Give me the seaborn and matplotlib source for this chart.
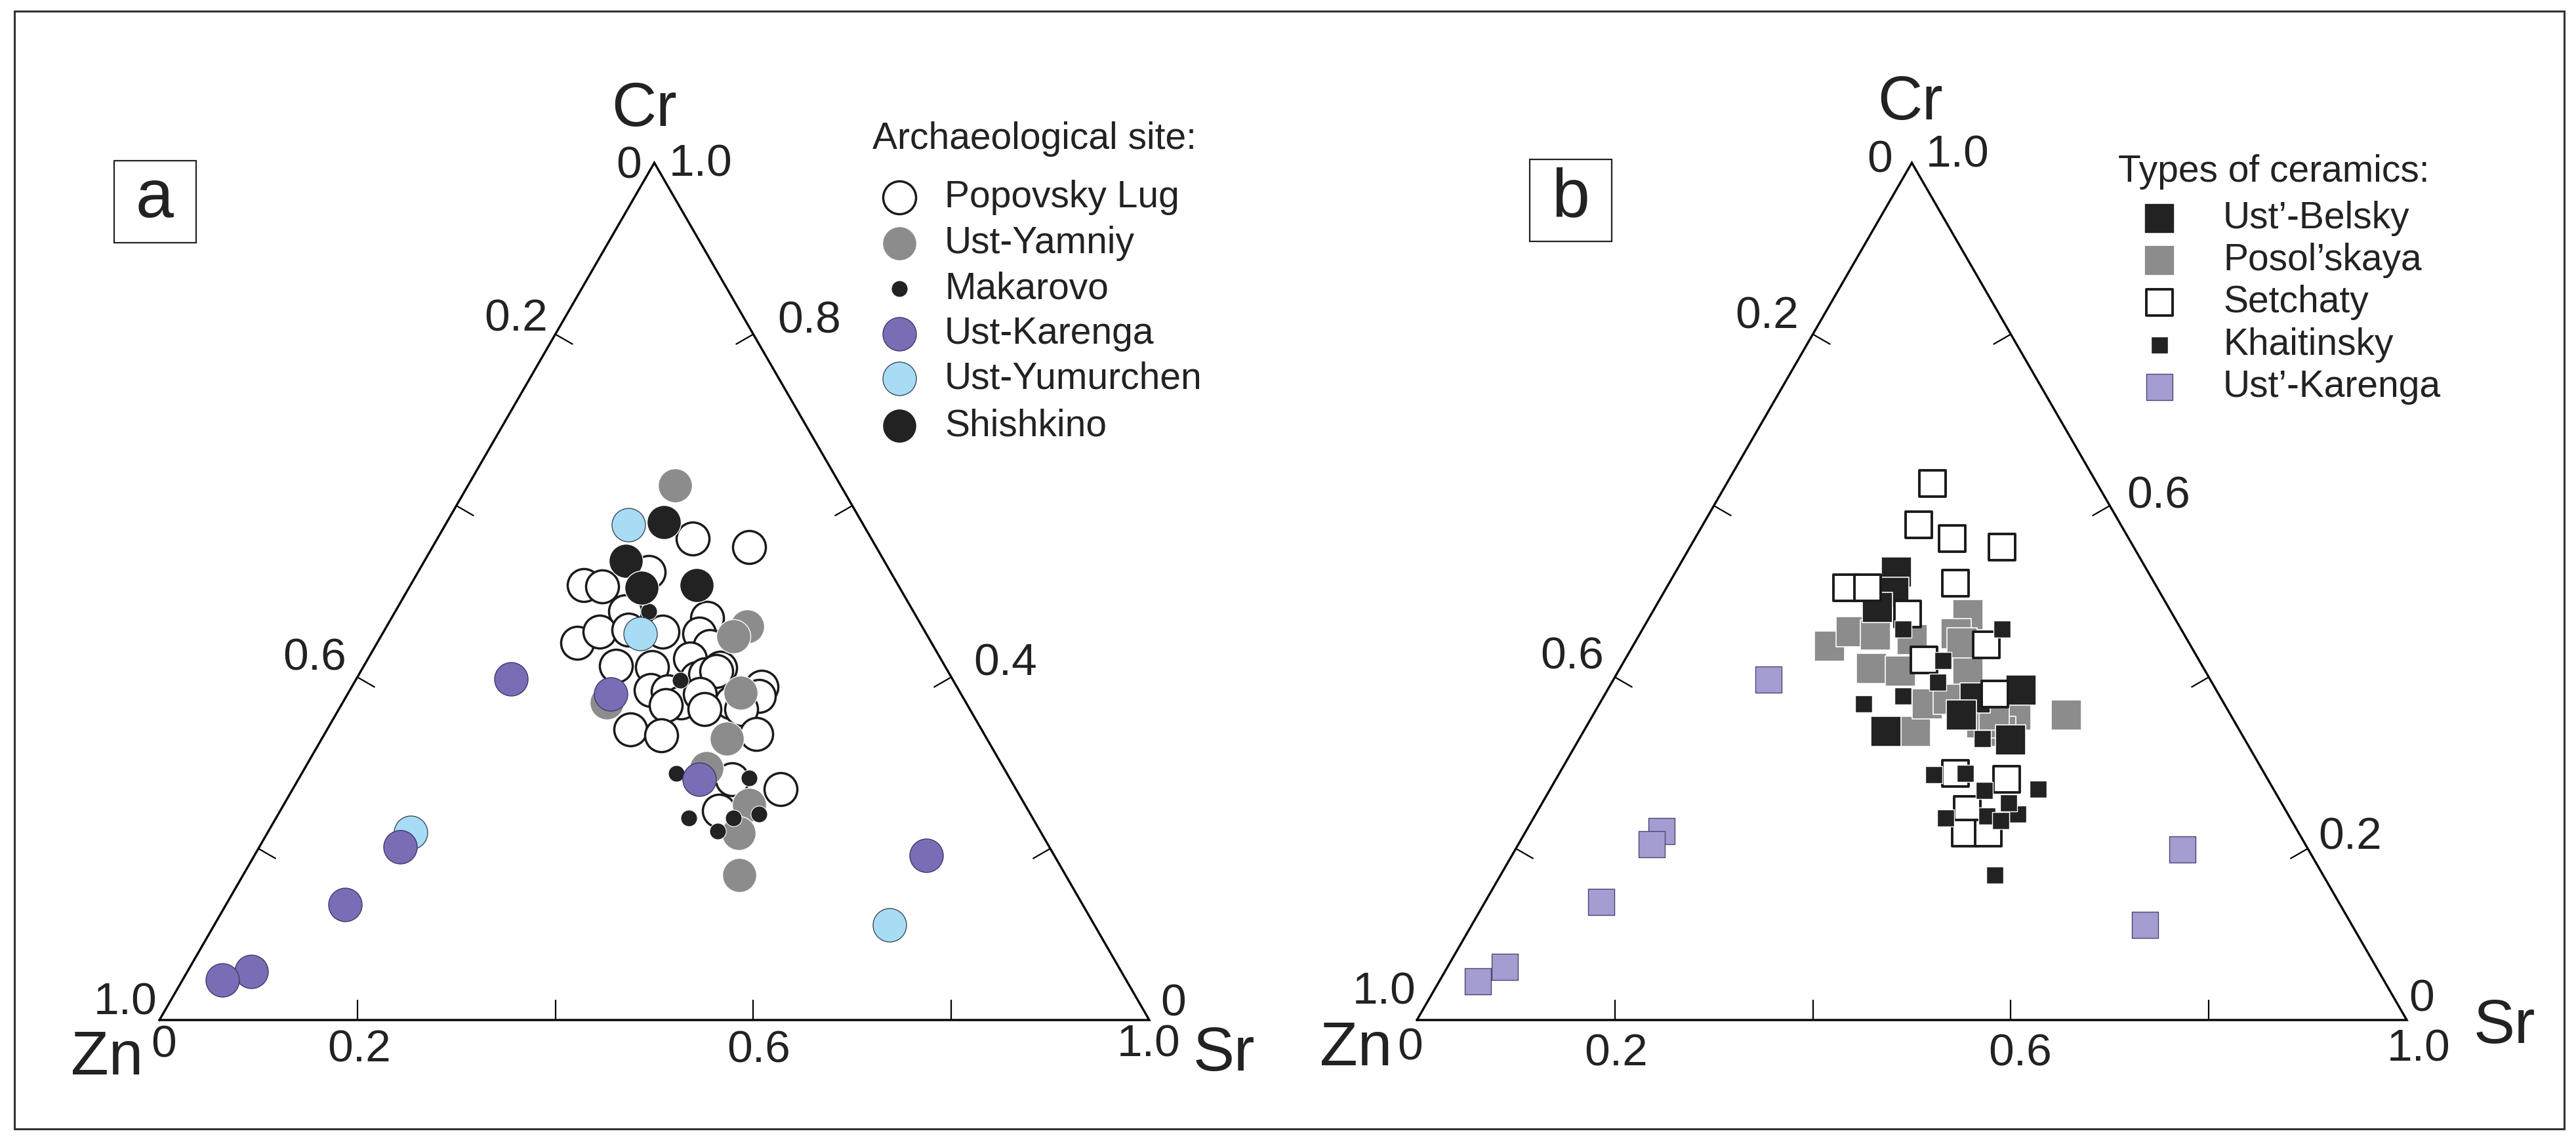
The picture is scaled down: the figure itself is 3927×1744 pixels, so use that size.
import numpy as np
import pandas as pd
import matplotlib.pyplot as plt
from matplotlib.patches import Rectangle
import seaborn as sns

sns.set_theme(style="white")
plt.rcParams['font.family'] = ['Liberation Sans', 'DejaVu Sans']

# ---- panel a: archaeological sites (Sr, Cr fractions; Zn = 1 - Sr - Cr) ----
pop_sr = [0.258, 0.320, 0.233, 0.175, 0.194, 0.232, 0.319, 0.202, 0.218, 0.246,
          0.282, 0.320, 0.338, 0.255, 0.292, 0.325, 0.361, 0.304, 0.322, 0.343,
          0.350, 0.359, 0.414, 0.417, 0.342, 0.356, 0.393, 0.406, 0.328, 0.306,
          0.341, 0.369, 0.436, 0.493, 0.438, 0.443]
pop_cr = [0.562, 0.552, 0.523, 0.507, 0.506, 0.477, 0.469, 0.440, 0.453, 0.455,
          0.453, 0.451, 0.436, 0.413, 0.412, 0.422, 0.411, 0.385, 0.383, 0.399,
          0.403, 0.407, 0.389, 0.378, 0.370, 0.380, 0.370, 0.363, 0.367, 0.339,
          0.332, 0.363, 0.334, 0.269, 0.281, 0.244]
yam_sr = [0.209, 0.364, 0.356, 0.396, 0.409, 0.406, 0.470, 0.476, 0.501, 0.267]
yam_cr = [0.624, 0.459, 0.448, 0.382, 0.328, 0.294, 0.251, 0.218, 0.169, 0.370]
mak_sr = [0.256, 0.328, 0.378, 0.455, 0.417, 0.462, 0.486, 0.454]
mak_cr = [0.477, 0.396, 0.288, 0.282, 0.236, 0.236, 0.240, 0.220]
shi_sr = [0.219, 0.203, 0.235, 0.289]
shi_cr = [0.581, 0.536, 0.504, 0.507]
yum_sr = [0.185, 0.260, 0.144, 0.682]
yum_cr = [0.578, 0.451, 0.219, 0.111]
kar_sr = [0.156, 0.266, 0.405, 0.142, 0.120, 0.064, 0.040, 0.679]
kar_cr = [0.398, 0.380, 0.281, 0.202, 0.135, 0.057, 0.047, 0.192]

# ---- panel b: types of ceramics ----
bel_sr = [0.223, 0.232, 0.225, 0.376, 0.418, 0.305, 0.436, 0.372]
bel_cr = [0.523, 0.499, 0.481, 0.376, 0.385, 0.337, 0.327, 0.356]
pos_sr = [0.199, 0.212, 0.239, 0.254, 0.285, 0.335, 0.331, 0.278, 0.320, 0.319,
          0.353, 0.331, 0.427, 0.478, 0.421, 0.397, 0.350, 0.405]
pos_cr = [0.436, 0.453, 0.449, 0.410, 0.407, 0.337, 0.369, 0.444, 0.473, 0.451,
          0.407, 0.440, 0.356, 0.356, 0.337, 0.347, 0.374, 0.356]
set_sr = [0.208, 0.218, 0.260, 0.315, 0.289, 0.182, 0.203, 0.259, 0.302, 0.356,
          0.394, 0.455, 0.433, 0.445, 0.468, 0.400]
set_cr = [0.626, 0.578, 0.562, 0.552, 0.510, 0.504, 0.504, 0.474, 0.420, 0.438,
          0.380, 0.281, 0.246, 0.218, 0.218, 0.288]
kha_sr = [0.263, 0.322, 0.329, 0.439, 0.487, 0.416, 0.379, 0.410, 0.363, 0.267,
          0.302, 0.407, 0.493, 0.471, 0.457, 0.473, 0.499]
kha_cr = [0.456, 0.419, 0.394, 0.268, 0.240, 0.236, 0.286, 0.288, 0.456, 0.369,
          0.378, 0.328, 0.269, 0.253, 0.238, 0.233, 0.169]
ukb_sr = [0.157, 0.137, 0.135, 0.117, 0.058, 0.039, 0.674, 0.680]
ukb_cr = [0.397, 0.220, 0.205, 0.138, 0.062, 0.045, 0.199, 0.111]

# label, sr, cr, marker, size, face, edge, linewidth
groups_a = [
    ("Popovsky Lug", pop_sr, pop_cr, "o", 1300, "white", "#1a1a1a", 2.5),
    ("Ust-Yamniy", yam_sr, yam_cr, "o", 1400, "#8c8c8c", "white", 1.0),
    ("Makarovo", mak_sr, mak_cr, "o", 330, "#222222", "white", 0.8),
    ("Ust-Karenga", kar_sr, kar_cr, "o", 1350, "#7a6db6", "#3f376b", 1.0),
    ("Ust-Yumurchen", yum_sr, yum_cr, "o", 1350, "#a8dcf4", "#3a4a5a", 1.0),
    ("Shishkino", shi_sr, shi_cr, "o", 1400, "#222222", "white", 1.0),
]
draw_a = [0, 1, 2, 5, 4, 3]
groups_b = [
    ("Ust\u2019-Belsky", bel_sr, bel_cr, "s", 1090, "#222222", "white", 1.2),
    ("Posol\u2019skaya", pos_sr, pos_cr, "s", 1090, "#8c8c8c", "white", 1.2),
    ("Setchaty", set_sr, set_cr, "s", 830, "white", "#1a1a1a", 2.8),
    ("Khaitinsky", kha_sr, kha_cr, "s", 350, "#222222", "white", 1.0),
    ("Ust\u2019-Karenga", ukb_sr, ukb_cr, "s", 870, "#a49dd1", "#4a4470", 1.0),
]
draw_b = [1, 0, 2, 3, 4]

W, H = 3927, 1744
SIDE = 1509.0
H3 = np.sqrt(3) / 2

fig = plt.figure(figsize=(W / 100, H / 100), dpi=100)
over = fig.add_axes([0, 0, 1, 1])
over.set_xlim(0, W)
over.set_ylim(H, 0)
over.set_axis_off()
over.add_patch(Rectangle((22, 17), 3887, 1704, fill=False, ec="#333333", lw=2.2))


def tern_xy(sr, cr):
    sr = np.asarray(sr, float)
    cr = np.asarray(cr, float)
    return sr + cr / 2, cr * H3


def make_axes(zn_px, rect):
    l, t, r, b = rect
    ax = fig.add_axes([l / W, (H - b) / H, (r - l) / W, (b - t) / H])
    ax.set_xlim((l - zn_px[0]) / SIDE, (r - zn_px[0]) / SIDE)
    ax.set_ylim((zn_px[1] - b) / SIDE, (zn_px[1] - t) / SIDE)
    ax.set_axis_off()
    ax.patch.set_alpha(0)
    return ax


def put(ax, x, y, dx, dy, s, size):
    # offsets in pixels (dy positive = down)
    ax.text(x + dx / SIDE, y - dy / SIDE, s, fontsize=size, ha="center",
            va="center", color="#222222")


def draw_frame(ax, lab):
    ax.plot([0, 1, 0.5, 0], [0, 0, H3, 0], color="black", lw=2.4,
            solid_joinstyle="miter", zorder=1)
    tl = 30 / SIDE
    for t in [0.2, 0.4, 0.6, 0.8]:
        ax.plot([t, t], [0, tl], color="black", lw=1.6)
        x, y = tern_xy(0, 1 - t)
        ax.plot([x, x + tl * H3], [y, y - tl * 0.5], color="black", lw=1.6)
        x, y = tern_xy(1 - t, t)
        ax.plot([x, x - tl * H3], [y, y - tl * 0.5], color="black", lw=1.6)
    for t, s, d in lab["bottom"]:
        put(ax, t, 0, d[0], d[1], s, 50)
    for t, s, d in lab["left"]:
        x, y = tern_xy(0, 1 - t)
        put(ax, x, y, d[0], d[1], s, 50)
    for t, s, d in lab["right"]:
        x, y = tern_xy(1 - t, t)
        put(ax, x, y, d[0], d[1], s, 50)
    put(ax, 0.5, H3, lab["Cr"][0], lab["Cr"][1], "Cr", 68)
    put(ax, 0, 0, lab["Zn"][0], lab["Zn"][1], "Zn", 68)
    put(ax, 1, 0, lab["Sr"][0], lab["Sr"][1], "Sr", 68)


def draw_points(ax, groups, order):
    for k, i in enumerate(order):
        name, sr, cr, mk, size, fc, ec, lw = groups[i]
        x, y = tern_xy(sr, cr)
        df = pd.DataFrame({"x": x, "y": y})
        sns.scatterplot(data=df, x="x", y="y", ax=ax, marker=mk, s=size,
                        color=fc, edgecolor=ec, linewidth=lw, legend=False,
                        zorder=3 + k, clip_on=False)


def draw_legend(title, groups, x0, y0, mx, tx, ys):
    over.text(x0, y0, title, fontsize=41, ha="left", va="center", color="#222222")
    for (name, sr, cr, mk, size, fc, ec, lw), yy in zip(groups, ys):
        over.scatter([mx], [yy], marker=mk, s=size, c=fc, edgecolors=ec,
                     linewidths=lw, zorder=5)
        over.text(tx, yy, name, fontsize=41, ha="left", va="center", color="#222222")


def panel_box(x, y, s):
    over.add_patch(Rectangle((x, y), 125, 125, fill=False, ec="#222222", lw=1.6))
    over.text(x + 62, y + 60, s, fontsize=75, ha="center", va="center", color="#222222")


# panel a
ax_a = make_axes((243, 1555), (23, 17, 1960, 1721))
draw_frame(ax_a, {
    "bottom": [(0, "0", (7, 38)), (0.2, "0.2", (3, 45)), (0.6, "0.6", (8, 46)),
               (1.0, "1.0", (-1, 37))],
    "left": [(1.0, "1.0", (-52, -27)), (0.6, "0.6", (-65, -29)),
             (0.2, "0.2", (-60, -23)), (0.0, "0", (-39, 5))],
    "right": [(1.0, "1.0", (71, 2)), (0.8, "0.8", (85, -20)),
              (0.4, "0.4", (82, -21)), (0.0, "0", (37, -25))],
    "Cr": (-15, -81), "Zn": (-80, 58), "Sr": (114, 52)})
draw_points(ax_a, groups_a, draw_a)
draw_legend("Archaeological site:", groups_a, 1330, 212, 1371, 1440,
            [301, 371, 440, 509, 577, 649])
panel_box(174, 245, "a")

# panel b
ax_b = make_axes((2160, 1555), (1964, 17, 3905, 1721))
draw_frame(ax_b, {
    "bottom": [(0, "0", (-10, 42)), (0.2, "0.2", (2, 51)), (0.6, "0.6", (14, 51)),
               (1.0, "1.0", (18, 44))],
    "left": [(1.0, "1.0", (-50, -43)), (0.6, "0.6", (-65, -31)),
             (0.2, "0.2", (-70, -27)), (0.0, "0", (-49, -4))],
    "right": [(1.0, "1.0", (70, -12)), (0.6, "0.6", (74, -14)),
              (0.2, "0.2", (65, -17)), (0.0, "0", (23, -32))],
    "Cr": (-2, -91), "Zn": (-93, 44), "Sr": (149, 10)})
draw_points(ax_b, groups_b, draw_b)
draw_legend("Types of ceramics:", groups_b, 3229, 262, 3292, 3389,
            [333, 397, 461, 526, 590])
panel_box(2332, 243, "b")

fig.savefig("out.png", dpi=100)
